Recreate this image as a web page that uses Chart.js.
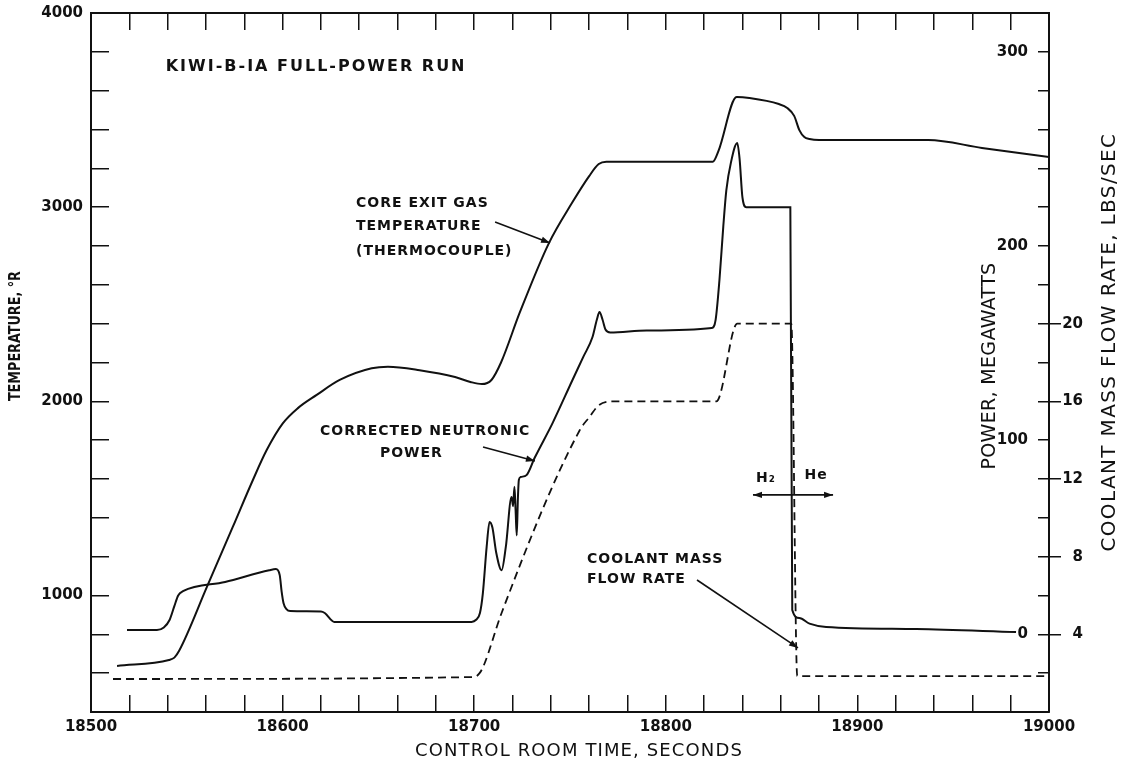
<!DOCTYPE html>
<html>
<head>
<meta charset="utf-8">
<script src="https://cdn.jsdelivr.net/npm/chart.js@4.4.0/dist/chart.umd.min.js"></script>
<style>
  html, body { margin: 0; padding: 0; background: #fff; }
  #wrap { width: 1125px; height: 768px; position: relative; }
</style>
</head>
<body>
<div id="wrap"><canvas id="kiwiChart"></canvas></div>
<script>
// core exit gas temperature (deg R) against control room time (s)
const tempTimes = [18513.6, 18540.7, 18543.5, 18546, 18560.5, 18574, 18584.5, 18591.7, 18600, 18608,
  18617.8, 18629.8, 18646.5, 18655, 18671.5, 18690, 18698, 18704, 18709, 18714,
  18723.7, 18739, 18751, 18760, 18765, 18769, 18824.5, 18827.5, 18837, 18843.6,
  18859, 18863.4, 18867, 18869.7, 18872.3, 18875, 18880, 18937, 18965, 19000];
const tempValues = [637, 668, 680, 715, 1044, 1353, 1595, 1749, 1885, 1965,
  2033, 2110, 2170, 2178, 2160, 2125, 2100, 2089, 2110, 2200,
  2455, 2815, 3021, 3160, 3222, 3234, 3234, 3290, 3567, 3562,
  3531, 3511, 3470, 3397, 3361, 3351, 3346, 3346, 3305, 3258];

// corrected neutronic power (MW)
const powerTimes = [18518.8, 18534.4, 18538, 18541, 18543.5, 18545.5, 18548, 18570, 18593, 18596.5,
  18598.5, 18599.5, 18600.5, 18602, 18604, 18620, 18622, 18627, 18698.6, 18701,
  18703, 18704.5, 18706.5, 18708, 18709.5, 18711.5, 18714.3, 18716.5, 18719.5, 18720.3,
  18721, 18721.6, 18722.2, 18722.8, 18723.3, 18724.2, 18727.3, 18731.5, 18740.9, 18751.3,
  18757, 18761.7, 18764, 18765.4, 18767, 18768.5, 18771, 18790, 18824, 18826,
  18828, 18830, 18831.6, 18834, 18837.3, 18838.5, 18840, 18842, 18865, 18866,
  18869.7, 18875, 18883.7, 18930.7, 18982.8];
const powerValues = [2.2, 2.2, 3.5, 7.4, 14.5, 20, 22.2, 27, 33, 33.6,
  30.5, 22, 16, 13, 12, 11.8, 11, 6.4, 6.4, 7.5,
  11, 21, 45, 57.9, 55, 42, 33, 45, 70.7, 66,
  76, 64, 51, 70, 79.5, 81, 82, 90.8, 108.8, 131,
  143, 153, 162, 166, 162, 157, 155.5, 156.5, 157.8, 162,
  182.5, 210, 228.8, 243, 253, 245, 225, 220, 220, 12.5,
  8.4, 5.5, 3.8, 2.7, 1.2];

// coolant mass flow rate (lbs/sec)
const flowTimes = [18511.5, 18700, 18702.8, 18705, 18714.3, 18755, 18760.2, 18765, 18772, 18826.4,
  18837.3, 18865.5, 18868.6, 18999.5];
const flowValues = [1.7, 1.8, 2.0, 2.4, 5.1, 14.5, 15.2, 15.8, 16.0, 16.0,
  20.0, 20.0, 1.85, 1.85];

const timeTickLabels = [18500, 18600, 18700, 18800, 18900, 19000];
const tempTickLabels = [1000, 2000, 3000, 4000];
const powerTickLabels = [0, 100, 200, 300];
const flowTickLabels = [4, 8, 12, 16, 20];

const INK = '#111';
const tickFont = { family: 'DejaVu Sans', size: 15, weight: 'bold' };
const noteFont = 'bold 14px "DejaVu Sans"';

// text notes, placed in (time, temperature) units
const notes = [
  { text: 'KIWI-B-IA FULL-POWER RUN', t: 18539, temp: 3722, font: 'bold 16px "DejaVu Sans"', spacing: 2 },
  { text: 'CORE EXIT GAS', t: 18638.3, temp: 3021 },
  { text: 'TEMPERATURE', t: 18638.3, temp: 2903 },
  { text: '(THERMOCOUPLE)', t: 18638.3, temp: 2774 },
  { text: 'CORRECTED NEUTRONIC', t: 18619.5, temp: 1847 },
  { text: 'POWER', t: 18650.8, temp: 1734 },
  { text: 'COOLANT MASS', t: 18758.9, temp: 1188 },
  { text: 'FLOW RATE', t: 18758.9, temp: 1085 },
  { text: 'H₂', t: 18852.3, temp: 1605, align: 'center' },
  { text: 'He', t: 18878.4, temp: 1621, align: 'center' }
];
const arrows = [
  { from: [18710.9, 2924], to: [18739.6, 2815] },
  { from: [18704.6, 1765], to: [18731.7, 1693] },
  { from: [18816.3, 1080], to: [18869, 730] },
  { from: [18845.5, 1518], to: [18887.3, 1518], both: true }
];

function toPoints(xs, ys) {
  return xs.map((x, i) => ({ x: x, y: ys[i] }));
}

function drawText(ctx, text, x, y, o) {
  ctx.save();
  ctx.font = o.font || noteFont;
  ctx.fillStyle = INK;
  ctx.textBaseline = 'middle';
  ctx.textAlign = o.align || 'left';
  let spacing = o.spacing || 0;
  let maxW = null;
  if (o.width) {
    ctx.letterSpacing = '0px';
    const w = ctx.measureText(text).width;
    if (w < o.width) spacing = (o.width - w) / text.length;
    else { spacing = 0; maxW = o.width; }
  }
  ctx.letterSpacing = spacing + 'px';
  ctx.translate(x, y);
  if (o.rotate) ctx.rotate(o.rotate);
  if (maxW) ctx.fillText(text, 0, 0, maxW);
  else ctx.fillText(text, 0, 0);
  ctx.restore();
}

function arrowHead(ctx, x, y, ang) {
  const len = 9, half = 3.2;
  const c = Math.cos(ang), s = Math.sin(ang);
  ctx.beginPath();
  ctx.moveTo(x, y);
  ctx.lineTo(x - len * c + half * s, y - len * s - half * c);
  ctx.lineTo(x - len * c - half * s, y - len * s + half * c);
  ctx.closePath();
  ctx.fill();
}

const notesPlugin = {
  id: 'kiwiNotes',
  afterDatasetsDraw(chart) {
    const ctx = chart.ctx;
    const area = chart.chartArea;
    const sx = chart.scales.x, sy = chart.scales.y, sp = chart.scales.yP;
    const px = t => sx.getPixelForValue(t);
    const py = v => sy.getPixelForValue(v);

    notes.forEach(n => {
      drawText(ctx, n.text, px(n.t), py(n.temp), { font: n.font, spacing: n.spacing === undefined ? 1 : n.spacing, align: n.align });
    });

    ctx.save();
    ctx.strokeStyle = INK;
    ctx.fillStyle = INK;
    ctx.lineWidth = 1.6;
    arrows.forEach(a => {
      const x1 = px(a.from[0]), y1 = py(a.from[1]);
      const x2 = px(a.to[0]), y2 = py(a.to[1]);
      ctx.beginPath();
      ctx.moveTo(x1, y1);
      ctx.lineTo(x2, y2);
      ctx.stroke();
      const ang = Math.atan2(y2 - y1, x2 - x1);
      arrowHead(ctx, x2, y2, ang);
      if (a.both) arrowHead(ctx, x1, y1, ang + Math.PI);
    });
    ctx.restore();

    // axis titles
    const up = -Math.PI / 2;
    drawText(ctx, 'TEMPERATURE, °R', area.left - 75, py(2336), { font: 'bold 15px "DejaVu Sans"', width: 130, align: 'center', rotate: up });
    drawText(ctx, 'CONTROL ROOM TIME, SECONDS', px(18754.7), area.bottom + 39, { font: '18px "DejaVu Sans"', width: 328, align: 'center' });
    drawText(ctx, 'POWER, MEGAWATTS', px(18969.2), sp.getPixelForValue(138.2), { font: '19px "DejaVu Sans"', width: 207, align: 'center', rotate: up });
    drawText(ctx, 'COOLANT MASS FLOW RATE, LBS/SEC', area.right + 61, py(2305), { font: '20px "DejaVu Sans"', width: 419, align: 'center', rotate: up });
  }
};

const tickGrid = len => ({ drawOnChartArea: false, drawTicks: true, tickLength: len, color: INK, lineWidth: 1.5 });
const axisBorder = { display: true, color: INK, width: 2 };

// fixed axis sizes so the plot area lands where the original has it
function sizeX(h) {
  return s => { s.height = h; s.paddingLeft = 0; s.paddingRight = 0; };
}
function sizeY(w) {
  return s => { s.width = w; s.paddingTop = 0; s.paddingBottom = 0; };
}

new Chart(document.getElementById('kiwiChart'), {
  type: 'line',
  data: {
    datasets: [
      {
        label: 'Core exit gas temperature',
        data: toPoints(tempTimes, tempValues),
        xAxisID: 'x', yAxisID: 'y',
        borderColor: INK, borderWidth: 2, pointRadius: 0,
        cubicInterpolationMode: 'monotone', fill: false
      },
      {
        label: 'Corrected neutronic power',
        data: toPoints(powerTimes, powerValues),
        xAxisID: 'x', yAxisID: 'yP',
        borderColor: INK, borderWidth: 2, pointRadius: 0,
        cubicInterpolationMode: 'monotone', fill: false
      },
      {
        label: 'Coolant mass flow rate',
        data: toPoints(flowTimes, flowValues),
        xAxisID: 'x', yAxisID: 'yC',
        borderColor: INK, borderWidth: 1.8, borderDash: [8, 5], pointRadius: 0,
        cubicInterpolationMode: 'monotone', fill: false
      }
    ]
  },
  options: {
    responsive: true,
    maintainAspectRatio: false,
    devicePixelRatio: 1,
    animation: false,
    layout: { padding: { left: 0, top: 0, right: 42, bottom: 0 } },
    plugins: { legend: { display: false }, tooltip: { enabled: false } },
    scales: {
      x: {
        type: 'linear', position: 'bottom', min: 18500, max: 19000,
        ticks: {
          stepSize: 20, autoSkip: false, maxRotation: 0, padding: 23, color: INK, font: tickFont,
          callback: v => timeTickLabels.includes(v) ? String(v) : ''
        },
        grid: tickGrid(-17),
        border: axisBorder,
        afterFit: sizeX(56)
      },
      xTop: {
        type: 'linear', position: 'top', min: 18500, max: 19000,
        ticks: { stepSize: 20, autoSkip: false, display: false },
        grid: tickGrid(-17),
        border: axisBorder,
        afterFit: sizeX(13)
      },
      y: {
        type: 'linear', position: 'left', min: 400, max: 4000,
        ticks: {
          stepSize: 200, autoSkip: false, padding: 26, color: INK, font: tickFont,
          callback: v => tempTickLabels.includes(v) ? String(v) : ''
        },
        grid: tickGrid(-18),
        border: axisBorder,
        afterFit: sizeY(91)
      },
      yP: {
        type: 'linear', position: 'right', min: -40, max: 320,
        ticks: {
          stepSize: 20, autoSkip: false, mirror: true, padding: -21, color: INK, font: tickFont,
          callback: v => powerTickLabels.includes(v) ? String(v) : ''
        },
        grid: tickGrid(-11),
        border: { display: false },
        afterFit: sizeY(0)
      },
      yC: {
        type: 'linear', position: 'right', min: 0, max: 36,
        afterBuildTicks: s => { s.ticks = flowTickLabels.map(v => ({ value: v })); },
        ticks: { autoSkip: false, crossAlign: 'far', color: INK, font: tickFont },
        grid: tickGrid(12),
        border: axisBorder,
        afterFit: sizeY(34)
      }
    }
  },
  plugins: [notesPlugin]
});
</script>
</body>
</html>
